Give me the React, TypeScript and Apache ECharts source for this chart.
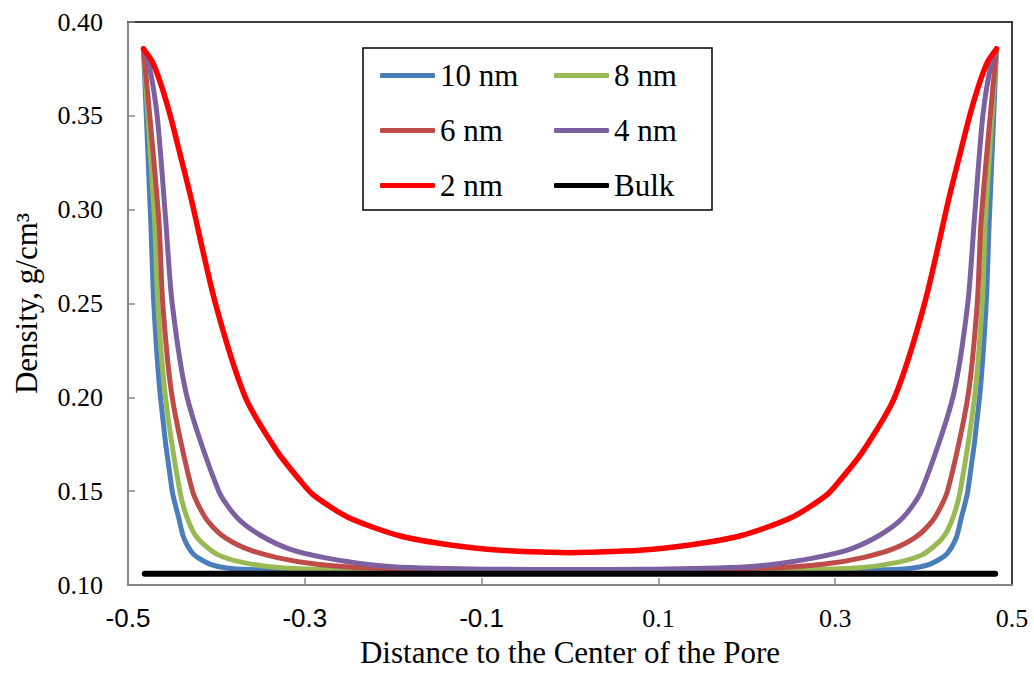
import React, { useEffect, useRef } from "react";
import * as echarts from "echarts";

type Pt = [number, number];

// Density profiles (x: distance to pore centre, y: g/cm3)
const nm10: Pt[] = [
  [-0.4825, 0.3857], [-0.4742, 0.293], [-0.4708, 0.25], [-0.4633, 0.2], [-0.45, 0.15],
  [-0.4426, 0.1358], [-0.4369, 0.1252], [-0.4256, 0.1163], [-0.4067, 0.111], [-0.3804, 0.1086],
  [-0.3426, 0.108], [-0.25, 0.1077], [-0.12, 0.1076], [0, 0.1076],
  [0.12, 0.1076], [0.25, 0.1077], [0.3426, 0.108], [0.3804, 0.1086], [0.4067, 0.111],
  [0.4256, 0.1163], [0.4369, 0.1252], [0.4426, 0.1358], [0.45, 0.15], [0.4633, 0.2],
  [0.4708, 0.25], [0.4742, 0.293], [0.4825, 0.3857],
];

const nm8: Pt[] = [
  [-0.4825, 0.3857], [-0.47, 0.295], [-0.4663, 0.25], [-0.4576, 0.2], [-0.4414, 0.15],
  [-0.4331, 0.1358], [-0.4218, 0.1252], [-0.3992, 0.1163], [-0.3691, 0.1119], [-0.3239, 0.109],
  [-0.25, 0.1081], [-0.12, 0.1078], [0, 0.1077],
  [0.12, 0.1078], [0.25, 0.1081], [0.3239, 0.109], [0.3691, 0.1119], [0.3992, 0.1163],
  [0.4218, 0.1252], [0.4331, 0.1358], [0.4414, 0.15], [0.4576, 0.2], [0.4663, 0.25],
  [0.47, 0.295], [0.4825, 0.3857],
];

const nm6: Pt[] = [
  [-0.4825, 0.3857], [-0.4652, 0.295], [-0.4607, 0.25], [-0.45, 0.2], [-0.427, 0.15],
  [-0.4124, 0.1358], [-0.3954, 0.127], [-0.3691, 0.1199], [-0.3313, 0.1146], [-0.2861, 0.111],
  [-0.2258, 0.109], [-0.12, 0.1082], [0, 0.108],
  [0.12, 0.1082], [0.2258, 0.109], [0.2861, 0.111], [0.3313, 0.1146], [0.3691, 0.1199],
  [0.3954, 0.127], [0.4124, 0.1358], [0.427, 0.15], [0.45, 0.2], [0.4607, 0.25],
  [0.4652, 0.295], [0.4825, 0.3857],
];

const nm4: Pt[] = [
  [-0.4825, 0.3857], [-0.4765, 0.378], [-0.467, 0.35], [-0.4576, 0.296], [-0.45, 0.25],
  [-0.4331, 0.2], [-0.3973, 0.15], [-0.3765, 0.1358], [-0.3502, 0.1265], [-0.3163, 0.119],
  [-0.2748, 0.1143], [-0.2258, 0.1108], [-0.1919, 0.1095], [-0.0789, 0.1084], [0, 0.1083],
  [0.0789, 0.1084], [0.1919, 0.1095], [0.2258, 0.1108], [0.2748, 0.1143], [0.3163, 0.119],
  [0.3502, 0.1265], [0.3765, 0.1358], [0.3973, 0.15], [0.4331, 0.2], [0.45, 0.25],
  [0.4576, 0.296], [0.467, 0.35], [0.4765, 0.378], [0.4825, 0.3857],
];

const nm2: Pt[] = [
  [-0.4825, 0.3857], [-0.4726, 0.3789], [-0.4633, 0.3675], [-0.452, 0.3498], [-0.4406, 0.3286],
  [-0.4293, 0.3073], [-0.4011, 0.25], [-0.3672, 0.2], [-0.3313, 0.1712], [-0.305, 0.1555],
  [-0.29, 0.1478], [-0.25, 0.1358], [-0.1919, 0.1261], [-0.1354, 0.1213], [-0.0789, 0.1185],
  [-0.0223, 0.1174], [0, 0.1172],
  [0.0223, 0.1174], [0.0789, 0.1185], [0.1354, 0.1213], [0.1919, 0.1261], [0.25, 0.1358],
  [0.29, 0.1478], [0.305, 0.1555], [0.3313, 0.1712], [0.3672, 0.2], [0.4011, 0.25],
  [0.4293, 0.3073], [0.4406, 0.3286], [0.452, 0.3498], [0.4633, 0.3675], [0.4726, 0.3789],
  [0.4825, 0.3857],
];

const bulk: Pt[] = [[-0.481, 0.106], [0.481, 0.106]];

const seriesNames = ["10 nm", "8 nm", "6 nm", "4 nm", "2 nm", "Bulk"];
const seriesColors = ["#4A7EBB", "#98B954", "#BE4B48", "#7D60A0", "#FF0000", "#000000"];
const seriesData = [nm10, nm8, nm6, nm4, nm2, bulk];

const xLabelValues = [-0.5, -0.3, -0.1, 0.1, 0.3, 0.5];
const xTickValues = [-0.3, -0.1, 0.1, 0.3];
const legendColumn1 = ["10 nm", "6 nm", "2 nm"];
const legendColumn2 = ["8 nm", "4 nm", "Bulk"];

const SERIF = "Liberation Serif";
const SANS = "Liberation Sans";

export default function App() {
  const ref = useRef<HTMLDivElement>(null);

  useEffect(() => {
    if (!ref.current) return;
    const chart = echarts.init(ref.current, undefined, { renderer: "svg" });

    const legendCommon = {
      orient: "vertical" as const,
      top: 60,
      itemWidth: 55,
      itemHeight: 5,
      itemGap: 24,
      icon: "roundRect",
      padding: 0,
      selectedMode: false,
      itemStyle: { borderWidth: 0 },
      textStyle: { fontFamily: SERIF, fontSize: 31, color: "#000", lineHeight: 30 },
    };

    chart.setOption({
      animation: false,
      backgroundColor: "#ffffff",
      textStyle: { fontFamily: SERIF, color: "#000" },
      grid: { left: 128, right: 22, top: 22, bottom: 86, containLabel: false },
      legend: [
        { ...legendCommon, left: 380, data: legendColumn1 },
        { ...legendCommon, left: 554, data: legendColumn2 },
      ],
      graphic: [
        {
          type: "rect",
          shape: { x: 363, y: 48, width: 349, height: 162 },
          style: { fill: "none", stroke: "#000", lineWidth: 1.5 },
          z: 10,
        },
      ],
      xAxis: [
        {
          type: "value",
          min: -0.5,
          max: 0.5,
          position: "bottom",
          axisLine: { show: true, onZero: false, lineStyle: { color: "#868686", width: 2 } },
          axisTick: {
            show: true,
            inside: true,
            length: 7,
            customValues: xTickValues,
            lineStyle: { color: "#868686", width: 1.5 },
          },
          axisLabel: {
            customValues: xLabelValues,
            margin: 20,
            fontFamily: SERIF,
            fontSize: 26,
            color: "#000",
            formatter: (v: number) =>
              v < 0 ? `{s|${v.toFixed(1)}}` : `{r|${v.toFixed(1)}}`,
            rich: {
              s: { fontFamily: SANS, fontSize: 26, color: "#000" },
              r: { fontFamily: SERIF, fontSize: 26, color: "#000" },
            },
          },
          splitLine: { show: false },
          name: "Distance to the Center of the Pore",
          nameLocation: "middle",
          nameGap: 52,
          nameTextStyle: { fontFamily: SERIF, fontSize: 31, color: "#000" },
        },
        {
          type: "value",
          min: -0.5,
          max: 0.5,
          position: "top",
          axisLine: { show: true, onZero: false, lineStyle: { color: "#000", width: 1.5 } },
          axisTick: { show: false },
          axisLabel: { show: false },
          splitLine: { show: false },
        },
      ],
      yAxis: [
        {
          type: "value",
          min: 0.1,
          max: 0.4,
          interval: 0.05,
          position: "left",
          axisLine: { show: true, onZero: false, lineStyle: { color: "#868686", width: 2 } },
          axisTick: { show: true, inside: true, length: 7, lineStyle: { color: "#868686", width: 1.5 } },
          axisLabel: {
            margin: 25,
            formatter: (v: number) => v.toFixed(2),
            fontFamily: SERIF,
            fontSize: 26,
            color: "#000",
          },
          splitLine: { show: false },
          name: "Density, g/cm³",
          nameLocation: "middle",
          nameGap: 86,
          nameTextStyle: { fontFamily: SERIF, fontSize: 31, color: "#000" },
        },
        {
          type: "value",
          min: 0.1,
          max: 0.4,
          interval: 0.05,
          position: "right",
          axisLine: { show: true, onZero: false, lineStyle: { color: "#000", width: 1.5 } },
          axisTick: { show: false },
          axisLabel: { show: false },
          splitLine: { show: false },
        },
      ],
      series: seriesNames.map((name, i) => ({
        name,
        type: "line",
        xAxisIndex: 0,
        yAxisIndex: 0,
        data: seriesData[i],
        symbol: "none",
        showSymbol: false,
        smooth: name === "Bulk" ? false : 0.25,
        color: seriesColors[i],
        lineStyle: {
          color: seriesColors[i],
          width: name === "Bulk" ? 6 : name === "2 nm" ? 5.5 : 5,
          cap: "round",
          join: "round",
        },
        emphasis: { disabled: true },
      })),
    });

    return () => chart.dispose();
  }, []);

  return (
    <div
      ref={ref}
      style={{ position: "absolute", left: 0, top: 0, width: 1034, height: 673, background: "#fff" }}
    />
  );
}
